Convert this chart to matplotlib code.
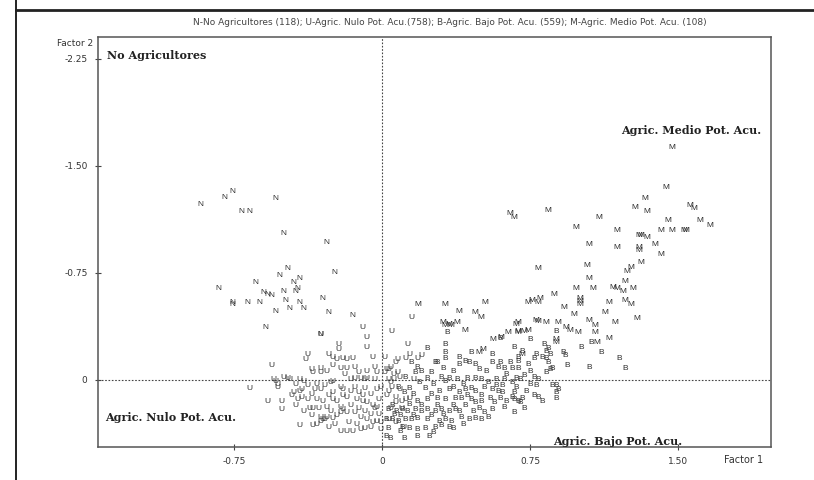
import matplotlib
matplotlib.use("Agg")
import matplotlib.pyplot as plt
from matplotlib.lines import Line2D
import numpy as np

title = ("N-No Agricultores (118); U-Agric. Nulo Pot. Acu.(758); "
         "B-Agric. Bajo Pot. Acu. (559); M-Agric. Medio Pot. Acu. (108)")

x_ticks = [-0.75, 0, 0.75, 1.50]
x_labels = ["-0.75", "0", "0.75", "1.50"]
y_ticks = [-2.25, -1.50, -0.75, 0]
y_labels = ["-2.25", "-1.50", "-0.75", "0"]

n_pts = [(-0.92, -1.23), (-0.80, -1.28), (-0.76, -1.32), (-0.54, -1.27), (-0.71, -1.18),
         (-0.67, -1.18), (-0.50, -1.03), (-0.28, -0.96), (-0.24, -0.75), (-0.48, -0.78),
         (-0.52, -0.73), (-0.45, -0.68), (-0.42, -0.71), (-0.64, -0.68), (-0.83, -0.64),
         (-0.60, -0.61), (-0.58, -0.60), (-0.56, -0.59), (-0.50, -0.62), (-0.44, -0.62),
         (-0.43, -0.64), (-0.30, -0.57), (-0.76, -0.54), (-0.76, -0.53), (-0.68, -0.54),
         (-0.62, -0.54), (-0.49, -0.56), (-0.42, -0.54), (-0.54, -0.48), (-0.47, -0.50),
         (-0.40, -0.50), (-0.27, -0.47), (-0.15, -0.45), (-0.59, -0.37), (-0.31, -0.32)]

m_pts = [(1.47, -1.63), (1.44, -1.35), (1.33, -1.27), (1.28, -1.21), (1.34, -1.18),
         (1.56, -1.22), (1.58, -1.20), (0.65, -1.17), (0.67, -1.14), (0.84, -1.19),
         (1.10, -1.14), (1.45, -1.12), (1.61, -1.12), (1.66, -1.08), (0.98, -1.07),
         (1.19, -1.05), (1.41, -1.05), (1.47, -1.05), (1.54, -1.05), (1.53, -1.05),
         (1.30, -1.01), (1.31, -1.01), (1.34, -1.00), (1.05, -0.95), (1.19, -0.93),
         (1.30, -0.93), (1.30, -0.91), (1.38, -0.95), (1.41, -0.88), (0.79, -0.78),
         (1.04, -0.80), (1.24, -0.76), (1.26, -0.79), (1.31, -0.82), (1.05, -0.71),
         (1.23, -0.69), (0.98, -0.64), (1.07, -0.64), (1.17, -0.65), (1.19, -0.64),
         (1.22, -0.62), (1.27, -0.64), (0.87, -0.60), (0.80, -0.57), (0.76, -0.56),
         (1.00, -0.57), (0.74, -0.54), (0.79, -0.54), (0.92, -0.51), (1.00, -0.55),
         (1.00, -0.53), (0.97, -0.46), (1.15, -0.54), (1.13, -0.47), (1.23, -0.56),
         (1.26, -0.53), (1.29, -0.43), (1.18, -0.40), (0.69, -0.40), (0.69, -0.34),
         (0.74, -0.35), (0.78, -0.42), (0.79, -0.41), (0.83, -0.40), (0.89, -0.40),
         (0.93, -0.37), (0.95, -0.35), (0.99, -0.33), (1.05, -0.42), (1.08, -0.38),
         (1.08, -0.33), (1.15, -0.29), (1.09, -0.26), (0.88, -0.28), (0.88, -0.26),
         (0.71, -0.18), (0.32, -0.38), (0.35, -0.38), (0.38, -0.40), (0.42, -0.35),
         (0.56, -0.28), (0.64, -0.33), (0.68, -0.39), (0.69, -0.33), (0.49, -0.19),
         (0.51, -0.21), (0.18, -0.53), (0.32, -0.53), (0.39, -0.48), (0.47, -0.47),
         (0.50, -0.44), (0.52, -0.54), (0.31, -0.40), (0.34, -0.39), (0.72, -0.34),
         (0.60, -0.30)]

u_pts = [(-0.10, -0.37), (-0.08, -0.30), (-0.31, -0.32), (-0.22, -0.25), (-0.22, -0.21),
         (-0.08, -0.23), (-0.38, -0.18), (-0.39, -0.14), (-0.56, -0.10), (-0.27, -0.18),
         (-0.25, -0.16), (-0.23, -0.14), (-0.20, -0.15), (-0.18, -0.14), (-0.15, -0.15),
         (-0.14, -0.09), (-0.21, -0.08), (-0.18, -0.08), (-0.05, -0.16), (-0.04, -0.09),
         (0.01, -0.16), (-0.03, -0.05), (0.02, -0.07), (0.01, -0.05), (-0.36, -0.07),
         (-0.35, -0.05), (-0.31, -0.08), (-0.31, -0.05), (-0.28, -0.06), (-0.50, -0.02),
         (-0.48, -0.01), (-0.47, 0.00), (-0.55, 0.00), (-0.53, 0.03), (-0.42, 0.00),
         (-0.40, 0.01), (-0.67, 0.06), (-0.58, 0.15), (-0.51, 0.15), (-0.51, 0.21),
         (-0.46, 0.11), (-0.45, 0.09), (-0.42, 0.08), (-0.41, 0.07), (-0.38, 0.14),
         (-0.34, 0.07), (-0.31, 0.07), (-0.29, 0.04), (-0.26, 0.02), (-0.25, 0.01),
         (-0.16, 0.00), (-0.14, -0.01), (-0.11, -0.01), (-0.09, 0.00), (-0.08, -0.01),
         (-0.04, 0.00), (-0.21, 0.05), (-0.20, 0.07), (-0.20, 0.11), (-0.18, 0.12),
         (-0.16, 0.08), (-0.33, 0.14), (-0.30, 0.15), (-0.25, 0.14), (-0.28, 0.19),
         (-0.37, 0.20), (-0.35, 0.20), (-0.32, 0.20), (-0.31, 0.26), (-0.28, 0.26),
         (-0.30, 0.28), (-0.25, 0.27), (-0.23, 0.15), (-0.21, 0.19), (-0.20, 0.21),
         (-0.21, 0.23), (-0.18, 0.23), (-0.16, 0.18), (-0.13, 0.14), (-0.10, 0.15),
         (-0.08, 0.16), (-0.05, 0.18), (-0.04, 0.20), (-0.03, 0.19), (-0.02, 0.14),
         (-0.14, 0.23), (-0.11, 0.26), (-0.08, 0.28), (-0.05, 0.30), (-0.03, 0.29),
         (-0.01, 0.30), (-0.42, 0.32), (-0.35, 0.32), (-0.31, 0.29), (-0.29, 0.28),
         (-0.21, 0.36), (-0.18, 0.36), (-0.15, 0.36), (-0.11, 0.35), (-0.09, 0.34),
         (-0.06, 0.33), (-0.41, 0.12), (-0.43, 0.14), (-0.54, 0.01), (-0.53, 0.05),
         (0.05, -0.34), (0.15, -0.44), (0.13, -0.25), (0.14, -0.18), (0.08, -0.14),
         (0.12, -0.15), (0.18, -0.15), (0.20, -0.17), (0.07, -0.12), (0.04, -0.09),
         (0.03, 0.00), (0.04, 0.02), (0.16, 0.00), (0.03, 0.08), (0.07, 0.12),
         (0.12, 0.14), (0.14, 0.13), (0.10, 0.15),
         (0.03, -0.07), (0.06, -0.04), (0.08, -0.05), (0.05, 0.05), (0.09, 0.07),
         (0.07, 0.16), (0.04, 0.20), (0.10, 0.20), (0.03, 0.28), (0.07, 0.30),
         (0.11, 0.33), (-0.44, 0.18), (-0.40, 0.22), (-0.36, 0.25), (-0.33, 0.31),
         (-0.27, 0.33), (-0.24, 0.31), (-0.26, 0.22), (-0.23, 0.25), (-0.17, 0.30),
         (-0.13, 0.31), (-0.12, 0.20), (-0.09, 0.22), (-0.06, 0.24), (-0.02, 0.24),
         (-0.01, 0.35), (-0.14, 0.05), (-0.12, 0.09), (-0.09, 0.06), (-0.06, 0.10),
         (-0.03, 0.07), (-0.10, 0.11), (-0.25, 0.09), (-0.27, 0.11), (-0.36, 0.10),
         (-0.33, 0.03), (-0.38, 0.04), (-0.44, 0.03), (-0.12, -0.05), (-0.08, -0.06),
         (-0.25, -0.10), (-0.19, -0.04), (0.06, 0.00), (0.09, -0.02), (0.02, 0.11),
         (-0.01, 0.05)]

b_pts = [(0.33, -0.33), (0.60, -0.29), (0.67, -0.23), (0.23, -0.22), (0.32, -0.25),
         (0.32, -0.19), (0.45, -0.19), (0.56, -0.18), (0.15, -0.12), (0.18, -0.09),
         (0.27, -0.12), (0.28, -0.12), (0.32, -0.15), (0.39, -0.16), (0.42, -0.13),
         (0.39, -0.11), (0.44, -0.12), (0.47, -0.11), (0.56, -0.12), (0.59, -0.09),
         (0.60, -0.12), (0.62, -0.08), (0.65, -0.12), (0.66, -0.08), (0.69, -0.13),
         (0.17, -0.05), (0.20, -0.06), (0.25, -0.05), (0.23, -0.01), (0.30, -0.02),
         (0.34, -0.01), (0.32, 0.01), (0.38, 0.00), (0.43, -0.01), (0.47, -0.01),
         (0.50, 0.00), (0.58, 0.00), (0.61, 0.04), (0.62, 0.00), (0.66, 0.02),
         (0.68, -0.01), (0.70, 0.00), (0.12, -0.02), (0.08, 0.05), (0.22, 0.06),
         (0.29, 0.08), (0.34, 0.07), (0.39, 0.09), (0.45, 0.06), (0.47, 0.08),
         (0.50, 0.11), (0.52, 0.05), (0.56, 0.07), (0.59, 0.08), (0.61, 0.09),
         (0.66, 0.12), (0.67, 0.14), (0.69, 0.15), (0.18, 0.15), (0.23, 0.14),
         (0.28, 0.13), (0.32, 0.14), (0.37, 0.13), (0.40, 0.13), (0.43, 0.11),
         (0.45, 0.14), (0.47, 0.16), (0.50, 0.15), (0.57, 0.16), (0.62, 0.19),
         (0.56, 0.21), (0.03, 0.21), (0.07, 0.22), (0.10, 0.21), (0.13, 0.22),
         (0.17, 0.21), (0.20, 0.22), (0.23, 0.21), (0.27, 0.22), (0.30, 0.21),
         (0.34, 0.22), (0.37, 0.21), (0.40, 0.26), (0.44, 0.28), (0.47, 0.27),
         (0.50, 0.28), (0.54, 0.26), (0.05, 0.28), (0.08, 0.29), (0.12, 0.28),
         (0.15, 0.28), (0.18, 0.27), (0.23, 0.28), (0.29, 0.29), (0.32, 0.28),
         (0.35, 0.29), (0.03, 0.34), (0.10, 0.33), (0.14, 0.34), (0.18, 0.35),
         (0.22, 0.34), (0.30, 0.32), (0.34, 0.33), (0.36, 0.34), (0.04, 0.41),
         (0.11, 0.41), (0.18, 0.40), (0.24, 0.40), (0.02, 0.28), (0.02, 0.40),
         (0.88, -0.34), (0.75, -0.28), (1.01, -0.23), (1.11, -0.19), (1.20, -0.15),
         (0.71, -0.20), (0.82, -0.25), (0.83, -0.20), (0.84, -0.22), (0.85, -0.18),
         (0.81, -0.16), (0.83, -0.15), (0.77, -0.15), (0.78, -0.18), (0.92, -0.19),
         (0.93, -0.17), (0.94, -0.10), (1.05, -0.09), (1.23, -0.08), (0.74, -0.11),
         (0.75, -0.06), (0.69, -0.08), (0.69, -0.16), (0.84, -0.12), (0.85, -0.07),
         (0.86, -0.08), (0.83, -0.05), (0.77, -0.02), (0.79, 0.00), (0.78, 0.04),
         (0.86, 0.04), (0.88, 0.04), (0.89, 0.07), (0.88, 0.09), (0.88, 0.13),
         (0.77, 0.11), (0.79, 0.12), (0.81, 0.15), (0.71, 0.13), (0.70, 0.16),
         (0.72, 0.20), (0.67, 0.23), (0.68, 0.05), (0.67, 0.09), (1.06, -0.26),
         (0.05, 0.18), (0.09, 0.25), (0.14, 0.17), (0.16, 0.25), (0.20, 0.18),
         (0.25, 0.25), (0.28, 0.18), (0.31, 0.24), (0.36, 0.18), (0.39, 0.22),
         (0.42, 0.18), (0.46, 0.22), (0.49, 0.20), (0.52, 0.23), (0.55, 0.13),
         (0.60, 0.13), (0.63, 0.15), (0.58, 0.04), (0.54, 0.02), (0.41, 0.03),
         (0.36, 0.05), (0.26, 0.03), (0.19, 0.02), (0.14, 0.06), (0.11, 0.09),
         (0.16, 0.10), (0.25, 0.10), (0.42, 0.07), (0.53, -0.06), (0.49, -0.07),
         (0.36, -0.06), (0.31, -0.08), (0.63, -0.04), (0.72, -0.03), (0.73, 0.08),
         (0.75, 0.03), (0.09, 0.36), (0.27, 0.33), (0.41, 0.31), (0.26, 0.37),
         (0.06, 0.24)]

groups = [("U", u_pts), ("B", b_pts), ("N", n_pts), ("M", m_pts)]

ink = "#333333"
fig = plt.figure(figsize=(8.14, 4.80), dpi=100)
ax = fig.add_axes([0.1204, 0.0688, 0.8268, 0.8541])

for letter, pts in groups:
    xy = np.array(pts)
    for x, y in xy:
        ax.text(x, y, letter, ha="center", va="center", fontsize=6,
                family=["Liberation Sans", "DejaVu Sans"], color="#2e2e2e")

ax.set_xlim(-1.438, 1.97)
ax.set_ylim(0.47, -2.404)
ax.axvline(0, color="#444444", lw=0.8, ls=(0, (1.5, 1.5)))
ax.axhline(0, color="#444444", lw=0.8, ls=(0, (1.5, 1.5)))

ax.set_xticks(x_ticks)
ax.set_xticklabels(x_labels)
ax.set_yticks(y_ticks)
ax.set_yticklabels(y_labels)
ax.tick_params(direction="inout", length=5, width=0.8, colors="#444444",
               labelsize=6.5, labelcolor=ink, pad=5)
for s in ax.spines.values():
    s.set_color("#555555")
    s.set_linewidth(1.1)

serif = dict(family=["DejaVu Serif"], fontweight="bold", fontsize=8,
             color="#222222", transform=ax.transAxes)
ax.text(0.014, 0.956, "No Agricultores", ha="left", va="center", **serif)
ax.text(0.985, 0.772, "Agric. Medio Pot. Acu.", ha="right", va="center", **serif)
ax.text(0.011, 0.072, "Agric. Nulo Pot. Acu.", ha="left", va="center", **serif)
ax.text(0.676, 0.014, "Agric. Bajo Pot. Acu.", ha="left", va="center", **serif)

narrow = ["Liberation Sans Narrow", "DejaVu Sans"]
fig.text(0.552, 0.954, title, ha="center", va="center", fontsize=6.5,
         family=narrow, color="#444444")
fig.text(93 / 814, 1 - 44 / 480, "Factor 2", ha="right", va="center",
         fontsize=6.5, family=narrow, color=ink)
fig.text(724 / 814, 1 - 460 / 480, "Factor 1", ha="left", va="center",
         fontsize=7, family=narrow, color=ink)

# frame of the page the chart was cut from
fig.add_artist(Line2D([16 / 814, 16 / 814], [0, 1], transform=fig.transFigure,
                      color="#222222", lw=1.4))
fig.add_artist(Line2D([16 / 814, 1], [1 - 10 / 480, 1 - 10 / 480],
                      transform=fig.transFigure, color="#222222", lw=2))

fig.savefig("out.png", dpi=100)
